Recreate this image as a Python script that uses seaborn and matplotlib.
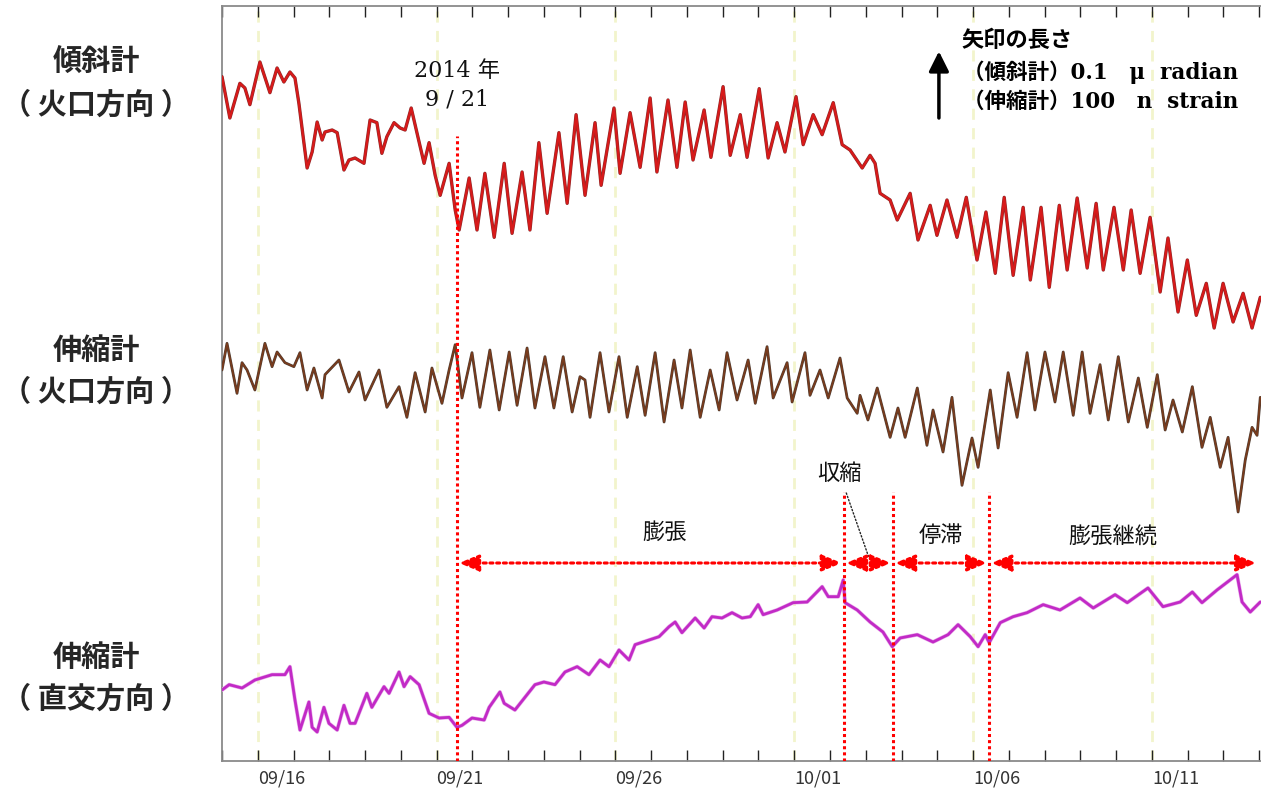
import numpy as np
import pandas as pd
import matplotlib
matplotlib.use("Agg")
import matplotlib.pyplot as plt
import matplotlib.dates as mdates
import matplotlib.transforms as mtransforms
import matplotlib.patheffects as pe
from matplotlib.patches import FancyArrowPatch
import seaborn as sns

# ---------------------------------------------------------------- data
START = pd.Timestamp("2014-09-15 00:00")

# tiltmeter, crater direction (days since START, nano-radian)
tilt_day = [0.00, 0.22, 0.50, 0.64, 0.78, 1.06, 1.34, 1.54, 1.73, 1.90, 2.04, 2.15, 2.38, 2.52, 2.66,
            2.80, 2.88, 3.08, 3.22, 3.41, 3.55, 3.72, 3.97, 4.14, 4.33, 4.47, 4.61, 4.81, 4.98, 5.12,
            5.29, 5.45, 5.65, 5.79, 5.96, 6.10, 6.35, 6.52, 6.63, 6.91, 7.13, 7.35, 7.61, 7.89, 8.11,
            8.39, 8.61, 8.86, 9.09, 9.42, 9.65, 9.90, 10.15, 10.43, 10.60, 10.96, 11.13, 11.41, 11.69,
            11.97, 12.16, 12.47, 12.72, 12.95, 13.17, 13.48, 13.67, 14.01, 14.21, 14.49, 14.68, 15.02,
            15.27, 15.52, 15.74, 16.05, 16.25, 16.53, 16.78, 17.09, 17.34, 17.56, 17.90, 18.12, 18.26,
            18.40, 18.68, 18.88, 19.24, 19.46, 19.80, 19.99, 20.27, 20.55, 20.81, 21.11, 21.36, 21.62,
            21.87, 22.12, 22.40, 22.60, 22.90, 23.13, 23.41, 23.63, 23.91, 24.19, 24.44, 24.64, 24.94,
            25.20, 25.42, 25.67, 25.95, 26.23, 26.45, 26.73, 26.99, 27.24, 27.52, 27.74, 27.99, 28.27,
            28.55, 28.80, 29.03]
tilt_nrad = [110, 48, 100, 93, 68, 132, 86, 123, 102, 117, 108, 70, -27, -3, 42,
             15, 27, 30, 26, -30, -15, -12, -20, 45, 41, -5, 20, 41, 33, 30,
             63, 26, -20, 11, -38, -68, -20, -90, -120, -42, -120, -35, -131, -20, -125,
             -33, -120, 11, -95, 26, -80, 53, -68, 41, -53, 63, -35, 56, -26,
             78, -33, 75, -26, 72, -15, 60, -11, 95, -8, 53, -11, 92,
             -12, 41, -3, 80, 8, 53, 23, 71, 8, 0, -27, -8, -20,
             -65, -75, -105, -65, -135, -83, -128, -75, -131, -71, -165, -93, -185,
             -71, -188, -86, -195, -86, -206, -83, -180, -72, -177, -80, -180, -86,
             -180, -90, -185, -101, -213, -132, -243, -165, -248, -200, -267, -200, -258,
             -215, -267, -221]

# extensometer, crater direction (days since START, nano-strain)
crater_day = [0.00, 0.14, 0.42, 0.56, 0.70, 0.92, 1.20, 1.40, 1.54, 1.76, 2.01, 2.18, 2.38, 2.57, 2.80,
              2.88, 3.27, 3.55, 3.83, 4.00, 4.39, 4.61, 4.95, 5.17, 5.40, 5.68, 5.87, 6.15, 6.35, 6.52,
              6.71, 6.99, 7.21, 7.49, 7.75, 8.03, 8.25, 8.53, 8.75, 9.03, 9.28, 9.54, 9.79, 10.01, 10.15,
              10.29, 10.57, 10.82, 11.10, 11.33, 11.61, 11.83, 12.11, 12.36, 12.64, 12.86, 13.09, 13.37,
              13.65, 13.90, 14.12, 14.40, 14.71, 14.91, 15.24, 15.41, 15.80, 15.94, 16.30, 16.44, 16.72,
              16.95, 17.28, 17.48, 17.76, 17.84, 18.06, 18.32, 18.68, 18.90, 19.10, 19.44, 19.71, 19.88,
              20.16, 20.41, 20.69, 20.97, 21.14, 21.48, 21.70, 21.98, 22.23, 22.51, 22.73, 23.01, 23.29,
              23.52, 23.80, 24.05, 24.27, 24.55, 24.78, 25.06, 25.34, 25.62, 25.87, 26.15, 26.37, 26.59,
              26.85, 27.13, 27.40, 27.63, 27.91, 28.13, 28.41, 28.61, 28.80, 28.94, 29.03]
crater_nstrain = [30, 70, -5, 41, 30, 0, 70, 35, 57, 41, 35, 56, 0, 33, -12,
                  23, 45, -3, 27, -15, 30, -26, 5, -41, 26, -33, 33, -20, 30, 68,
                  -12, 56, -26, 60, -30, 57, -23, 63, -27, 50, -27, 50, -33, 20, 15,
                  -41, 56, -33, 50, -41, 35, -38, 56, -48, 45, -27, 60, -41,
                  30, -30, 56, -15, 45, -20, 65, -12, 41, -18, 56, -8, 30,
                  -12, 48, -12, -35, -8, -45, 3, -71, -27, -71, 3, -83, -30,
                  -93, -11, -143, -72, -116, 0, -87, 26, -41, 56, -30, 57, -18,
                  57, -38, 57, -35, 38, -45, 50, -48, 18, -56, 23, -60, -15,
                  -63, 5, -86, -41, -116, -71, -183, -105, -56, -68, -11]

# extensometer, orthogonal direction (days since START, nano-strain)
ortho_day = [0.00, 0.20, 0.56, 0.92, 1.40, 1.76, 1.90, 2.04, 2.18, 2.43, 2.52, 2.66, 2.85, 2.99, 3.22,
             3.41, 3.58, 3.72, 4.05, 4.19, 4.53, 4.67, 4.95, 5.09, 5.26, 5.51, 5.79, 6.07, 6.35, 6.57,
             6.71, 6.99, 7.33, 7.47, 7.77, 7.89, 8.19, 8.47, 8.75, 9.00, 9.31, 9.59, 9.93, 10.26, 10.57,
             10.82, 11.10, 11.38, 11.55, 11.94, 12.22, 12.50, 12.67, 12.86, 13.23, 13.48, 13.70, 13.98,
             14.26, 14.54, 14.77, 14.99, 15.13, 15.52, 15.97, 16.36, 16.78, 16.95, 17.23, 17.37, 17.42,
             17.76, 18.12, 18.48, 18.74, 18.96, 19.44, 19.88, 20.30, 20.58, 20.92, 21.14, 21.34, 21.45,
             21.76, 22.12, 22.51, 22.96, 23.43, 23.99, 24.36, 24.97, 25.31, 25.89, 26.31, 26.79, 27.13,
             27.40, 27.82, 28.38, 28.52, 28.75, 29.03]
ortho_nstrain = [0, 8, 3, 15, 23, 23, 35, -15, -60, -18, -56, -63, -26, -50, -60,
                 -23, -50, -50, -5, -26, 5, -5, 27, 5, 20, 8, -35, -42, -41, -56,
                 -53, -42, -45, -26, -3, -20, -30, -11, 8, 12, 8, 27, 35, 23, 45,
                 35, 60, 45, 68, 75, 80, 95, 102, 86, 108, 93, 110, 108,
                 116, 108, 110, 128, 113, 120, 131, 132, 155, 140, 140, 165, 131,
                 120, 102, 87, 65, 78, 83, 72, 83, 98, 80, 65, 83, 71,
                 101, 110, 116, 128, 120, 138, 123, 143, 131, 153, 125, 132, 147,
                 131, 150, 173, 132, 117, 132]

# activity phases
phase_bounds = ["2014-09-21 13:40", "2014-10-02 09:20", "2014-10-03 18:15",
                "2014-10-06 10:50", "2014-10-13 23:20"]
phase_names = ["膨張", "収縮", "停滞", "膨張継続"]

row_labels = [("傾斜計", "（ 火口方向 ）"), ("伸縮計", "（ 火口方向 ）"), ("伸縮計", "（ 直交方向 ）")]
scale_title = "矢印の長さ"
scale_lines = ["（傾斜計）0.1　μ  radian", "（伸縮計）100　n  strain"]
scale_value = 100          # arrow length: 0.1 μrad = 100 nrad, 100 nstrain
date_title = ("2014 年", "9 / 21")

# ---------------------------------------------------------------- style
sns.set_theme(style="white")
plt.rcParams["font.family"] = ["Noto Sans CJK JP", "DejaVu Sans"]
SERIF_MIX = ["DejaVu Serif", "Noto Sans CJK JP"]

W, H = 1261, 790
fig = plt.figure(figsize=(W / 100, H / 100), dpi=100)
fig.patch.set_facecolor("white")
ax = fig.add_axes([222 / W, 29 / H, 1039 / W, 755 / H])
ax.set_facecolor("white")

# vertical stacking of the three traces (axis units = nano units)
trace_base = {"tilt": 916.5, "crater": 556.5, "ortho": 106.5}
Y_TOP = 1132.5


def to_time(days):
    return START + pd.to_timedelta(np.asarray(days, dtype=float), unit="D")


series = [
    ("tilt", tilt_day, tilt_nrad, "#d81a1a", 1.6, "#8c2a2a"),
    ("crater", crater_day, crater_nstrain, "#7a3b1c", 1.2, "#4e3e34"),
    ("ortho", ortho_day, ortho_nstrain, "#c22ac6", 2.0, "#e8aeea"),
]

# faint 5-day guide lines
guide_days = pd.date_range("2014-09-16", "2014-10-11", freq="5D")
for d in guide_days:
    ax.axvline(d, color="#f2f4cc", lw=2.0, ls=(0, (4, 3)), zorder=0)

for key, days, vals, col, lw, edge in series:
    df = pd.DataFrame({"time": to_time(days), "value": np.asarray(vals, float) + trace_base[key]})
    sns.lineplot(data=df, x="time", y="value", ax=ax, color=col, lw=lw,
                 estimator=None, sort=False, zorder=3)
    line = ax.get_lines()[-1]
    line.set_solid_joinstyle("round")
    line.set_path_effects([pe.Stroke(linewidth=lw + 0.8, foreground=edge), pe.Normal()])

t_end = START + pd.Timedelta(days=29.05)
ax.set_xlim(START, t_end)
ax.set_ylim(0, Y_TOP)
ax.set_xlabel("")
ax.set_ylabel("")
ax.set_yticks([])

ax.xaxis.set_major_locator(mdates.DayLocator(bymonthday=[1, 6, 11, 16, 21, 26]))
ax.xaxis.set_major_formatter(mdates.DateFormatter("%m/%d"))
ax.xaxis.set_minor_locator(mdates.DayLocator())
ax.tick_params(axis="x", which="both", direction="in", top=True, bottom=True,
               length=8, width=1.0, color="#222222")
ax.tick_params(axis="x", which="major", labelsize=13, labelcolor="#333333", pad=6)
plt.setp(ax.get_xticklabels(), ha="left")

for side in ["left", "top", "bottom"]:
    ax.spines[side].set_visible(True)
    ax.spines[side].set_color("#8a8a8a")
    ax.spines[side].set_linewidth(1.3)
ax.spines["right"].set_visible(False)

# phase boundaries
bounds = [pd.Timestamp(b) for b in phase_bounds]
vline_tops = [937.5, 403.5, 403.5, 403.5]
for b, top in zip(bounds[:4], vline_tops):
    ax.vlines(b, 0, top, colors="#ff0000", lw=2.2, linestyles=(0, (1, 1)), zorder=4)

arrow_y = 297
for t0, t1 in zip(bounds[:-1], bounds[1:]):
    arr = FancyArrowPatch((mdates.date2num(t0), arrow_y), (mdates.date2num(t1), arrow_y),
                          arrowstyle="<|-|>,head_length=1.2,head_width=0.5",
                          mutation_scale=10, color="#ff0000", lw=2.2,
                          linestyle=(0, (1, 1.2)), shrinkA=1.5, shrinkB=1.5, zorder=5)
    ax.add_patch(arr)

label_offsets = {"膨張": (10, 22), "停滞": (0, 20), "膨張継続": (-8, 19)}
for name, t0, t1 in zip(phase_names, bounds[:-1], bounds[1:]):
    mid = mdates.date2num(t0) + (mdates.date2num(t1) - mdates.date2num(t0)) / 2
    if name in label_offsets:
        ax.annotate(name, (mid, arrow_y), xytext=label_offsets[name], textcoords="offset points",
                    ha="center", va="center", fontsize=16, color="#111111")
    else:
        ax.annotate(name, (mid, arrow_y + 10), xytext=(-21, 60), textcoords="offset points",
                    ha="center", va="center", fontsize=16, color="#111111",
                    arrowprops=dict(arrowstyle="-", color="#222222", lw=1.0,
                                    linestyle=(0, (1, 1.5)), shrinkA=4, shrinkB=0))

# eruption date
t_start = bounds[0]
ax.text(t_start, 1035, date_title[0], ha="center", va="center", fontsize=16,
        family=SERIF_MIX, color="#111111")
ax.text(t_start, 993, date_title[1], ha="center", va="center", fontsize=16,
        family=SERIF_MIX, color="#111111")

# scale arrow and its caption
blend = mtransforms.blended_transform_factory(ax.transAxes, ax.transData)
arrow_base = 964.5
ax.annotate("", xy=(0.690, arrow_base + scale_value), xytext=(0.690, arrow_base),
            xycoords=blend, textcoords=blend,
            arrowprops=dict(arrowstyle="-|>,head_length=0.6,head_width=0.3", color="black",
                            lw=2.5, mutation_scale=20, shrinkA=0, shrinkB=0))
ax.text(0.712, 0.955, scale_title, transform=ax.transAxes, ha="left", va="center",
        fontsize=16, weight="bold", color="black")
for s, yf in zip(scale_lines, [0.9126, 0.8728]):
    ax.text(0.713, yf, s, transform=ax.transAxes, ha="left", va="center",
            fontsize=15.5, weight="bold", family=SERIF_MIX, color="black")

# row titles
row_y = [(0.921, 0.868), (0.557, 0.504), (0.168, 0.115)]
for (l1, l2), (y1, y2) in zip(row_labels, row_y):
    fig.text(0.0761, y1, l1, ha="center", va="center", fontsize=21, weight="bold")
    fig.text(0.0761, y2, l2, ha="center", va="center", fontsize=21, weight="bold")

fig.savefig("out.png", dpi=100, facecolor="white")
